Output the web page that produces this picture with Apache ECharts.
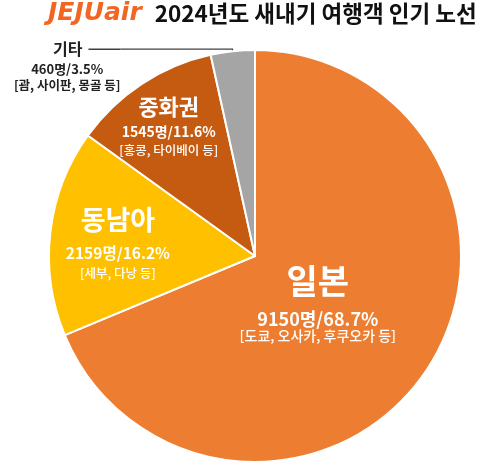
<!DOCTYPE html>
<html><head><meta charset="utf-8">
<script src="https://cdn.jsdelivr.net/npm/echarts@6/dist/echarts.min.js"></script>
<style>html,body{margin:0;padding:0;background:#fff}#c{width:500px;height:474px}</style>
</head><body><div id="c"></div>
<script>
const categories = ['일본', '동남아', '중화권', '기타'];
const travelers = [9150, 2159, 1545, 460];
const shares = ['68.7%', '16.2%', '11.6%', '3.5%'];
const examples = ['도쿄, 오사카, 후쿠오카 등', '세부, 다낭 등', '홍콩, 타이베이 등', '괌, 사이판, 몽골 등'];
const titleBrand = 'JEJUair';
const titleText = '2024년도 새내기 여행객 인기 노선';

const palette = ['#ED7D31', '#FFC000', '#C55A11', '#A5A5A5'];
const FONT = '"Noto Sans CJK KR", "Noto Sans", sans-serif';
const CENTER = [255, 256];
const R = 206;
// radius of invisible helper pies so that each inside label sits where the reference places it
const labelPieRadius = [145, 270, 308];
const insideSizes = [
  {n: 34, nh: 59, v: 18, vh: 17, d: 14, dh: 17},
  {n: 27, nh: 46, v: 15.5, vh: 20, d: 12.5, dh: 20},
  {n: 22, nh: 32, v: 14, vh: 18, d: 12.5, dh: 18}
];

function valueText(i) { return travelers[i] + '명/' + shares[i]; }

const series = [];
series.push({
  type: 'pie',
  center: CENTER,
  radius: R,
  startAngle: 90,
  clockwise: true,
  silent: true,
  avoidLabelOverlap: false,
  animation: false,
  itemStyle: {borderColor: '#fff', borderWidth: 2},
  label: {show: false},
  labelLine: {show: false},
  data: categories.map((c, i) => {
    const item = {name: c, value: travelers[i], itemStyle: {color: palette[i]}};
    if (i === 3) {
      item.label = {
        show: true,
        position: 'outside',
        distanceToLabelLine: 0,
        padding: [33, 0, 0, 0],
        formatter: '{t|' + c + '}{bar|}\n{n|' + valueText(i) + '}\n{d|[' + examples[i] + ']}',
        rich: {
          t: {fontFamily: FONT, fontWeight: 'bold', fontSize: 16, color: '#222', lineHeight: 22, align: 'right', padding: [0, 6, 0, 0]},
          bar: {width: 32, height: 1.4, backgroundColor: '#404040', lineHeight: 22, align: 'right'},
          n: {fontFamily: FONT, fontWeight: 'bold', fontSize: 13, color: '#222', lineHeight: 17, align: 'center'},
          d: {fontFamily: FONT, fontWeight: 'bold', fontSize: 12.5, color: '#222', lineHeight: 16, align: 'center'}
        }
      };
      item.labelLine = {show: true, length: 2, length2: 112, lineStyle: {color: '#404040', width: 1.3}};
    }
    return item;
  })
});

for (let k = 0; k < 3; k++) {
  const s = insideSizes[k];
  series.push({
    type: 'pie',
    center: CENTER,
    radius: labelPieRadius[k],
    startAngle: 90,
    clockwise: true,
    silent: true,
    avoidLabelOverlap: false,
    animation: false,
    z: 5,
    itemStyle: {color: 'rgba(0,0,0,0)', borderWidth: 0, borderColor: 'rgba(0,0,0,0)'},
    emphasis: {disabled: true},
    label: {show: false},
    labelLine: {show: false},
    data: categories.map((c, i) => ({
      name: c,
      value: travelers[i],
      label: i === k ? {
        show: true,
        position: 'inside',
        formatter: '{n|' + c + '}\n{v|' + valueText(i) + '}\n{d|[' + examples[i] + ']}',
        rich: {
          n: {fontFamily: FONT, fontWeight: 'bold', fontSize: s.n, color: '#fff', lineHeight: s.nh, align: 'center'},
          v: {fontFamily: FONT, fontWeight: 'bold', fontSize: s.v, color: '#fff', lineHeight: s.vh, align: 'center'},
          d: {fontFamily: FONT, fontWeight: 500, fontSize: s.d, color: '#fff', lineHeight: s.dh, align: 'center'}
        }
      } : {show: false}
    }))
  });
}

const chart = echarts.init(document.getElementById('c'));
chart.setOption({
  backgroundColor: '#fff',
  animation: false,
  title: {
    left: 48,
    top: 0,
    padding: 0,
    text: '{logo|' + titleBrand + '}{t|' + titleText + '}',
    textStyle: {
      rich: {
        logo: {fontFamily: '"DejaVu Sans", sans-serif', fontStyle: 'italic', fontWeight: 'bold', fontSize: 25, color: '#F26522', lineHeight: 26, padding: [0, 13, 0, 0]},
        t: {fontFamily: FONT, fontWeight: 'bold', fontSize: 22.5, color: '#111', lineHeight: 26}
      }
    }
  },
  series: series
});
</script>
</body></html>
